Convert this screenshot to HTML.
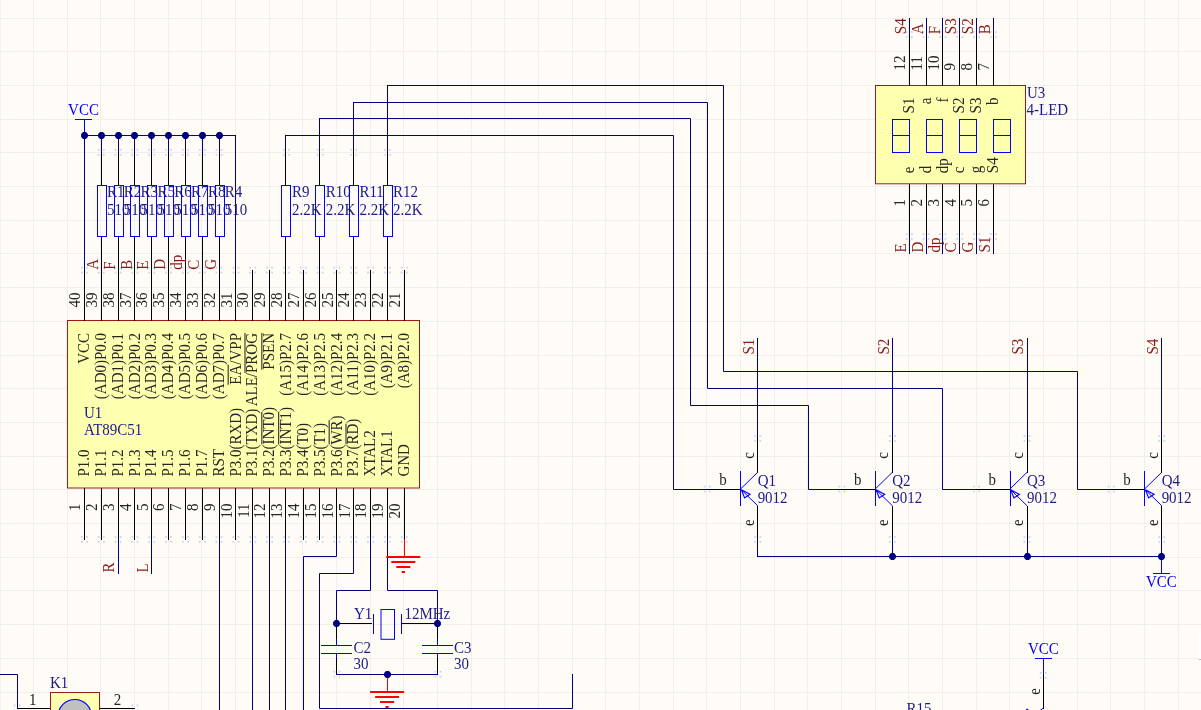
<!DOCTYPE html>
<html><head><meta charset="utf-8"><style>
html,body{margin:0;padding:0;background:#FFFCF7;width:1201px;height:710px;overflow:hidden}
svg{display:block;will-change:transform}
text{font-family:"Liberation Serif",serif;white-space:pre}
</style></head><body>
<svg width="1201" height="710" viewBox="0 0 1201 710">
<rect x="0" y="0" width="1201" height="710" fill="#FFFCF7"/>
<path d="M33.5 0V710 M67.5 0V710 M100.5 0V710 M134.5 0V710 M168.5 0V710 M201.5 0V710 M235.5 0V710 M269.5 0V710 M302.5 0V710 M336.5 0V710 M370.5 0V710 M403.5 0V710 M437.5 0V710 M471.5 0V710 M504.5 0V710 M538.5 0V710 M572.5 0V710 M605.5 0V710 M639.5 0V710 M673.5 0V710 M706.5 0V710 M740.5 0V710 M774.5 0V710 M807.5 0V710 M841.5 0V710 M875.5 0V710 M908.5 0V710 M942.5 0V710 M976.5 0V710 M1009.5 0V710 M1043.5 0V710 M1077.5 0V710 M1110.5 0V710 M1144.5 0V710 M1178.5 0V710 M0 18.5H1201 M0 51.5H1201 M0 85.5H1201 M0 119.5H1201 M0 152.5H1201 M0 186.5H1201 M0 220.5H1201 M0 253.5H1201 M0 287.5H1201 M0 321.5H1201 M0 355.5H1201 M0 388.5H1201 M0 422.5H1201 M0 456.5H1201 M0 489.5H1201 M0 523.5H1201 M0 557.5H1201 M0 590.5H1201 M0 624.5H1201 M0 658.5H1201 M0 692.5H1201" stroke="#F0EFEB" stroke-width="1" fill="none" shape-rendering="crispEdges"/>
<rect x="0" y="0" width="1" height="710" fill="#F4F3EF"/>
<rect x="97.73" y="148.93" width="1.8" height="1.8" fill="#C9D8F2"/>
<rect x="97.73" y="153.93" width="1.8" height="1.8" fill="#C9D8F2"/>
<rect x="102.93" y="148.93" width="1.8" height="1.8" fill="#C9D8F2"/>
<rect x="102.93" y="153.93" width="1.8" height="1.8" fill="#C9D8F2"/>
<rect x="114.57" y="148.93" width="1.8" height="1.8" fill="#C9D8F2"/>
<rect x="114.57" y="153.93" width="1.8" height="1.8" fill="#C9D8F2"/>
<rect x="119.77" y="148.93" width="1.8" height="1.8" fill="#C9D8F2"/>
<rect x="119.77" y="153.93" width="1.8" height="1.8" fill="#C9D8F2"/>
<rect x="131.4" y="148.93" width="1.8" height="1.8" fill="#C9D8F2"/>
<rect x="131.4" y="153.93" width="1.8" height="1.8" fill="#C9D8F2"/>
<rect x="136.6" y="148.93" width="1.8" height="1.8" fill="#C9D8F2"/>
<rect x="136.6" y="153.93" width="1.8" height="1.8" fill="#C9D8F2"/>
<rect x="148.23" y="148.93" width="1.8" height="1.8" fill="#C9D8F2"/>
<rect x="148.23" y="153.93" width="1.8" height="1.8" fill="#C9D8F2"/>
<rect x="153.43" y="148.93" width="1.8" height="1.8" fill="#C9D8F2"/>
<rect x="153.43" y="153.93" width="1.8" height="1.8" fill="#C9D8F2"/>
<rect x="165.07" y="148.93" width="1.8" height="1.8" fill="#C9D8F2"/>
<rect x="165.07" y="153.93" width="1.8" height="1.8" fill="#C9D8F2"/>
<rect x="170.27" y="148.93" width="1.8" height="1.8" fill="#C9D8F2"/>
<rect x="170.27" y="153.93" width="1.8" height="1.8" fill="#C9D8F2"/>
<rect x="181.9" y="148.93" width="1.8" height="1.8" fill="#C9D8F2"/>
<rect x="181.9" y="153.93" width="1.8" height="1.8" fill="#C9D8F2"/>
<rect x="187.1" y="148.93" width="1.8" height="1.8" fill="#C9D8F2"/>
<rect x="187.1" y="153.93" width="1.8" height="1.8" fill="#C9D8F2"/>
<rect x="198.73" y="148.93" width="1.8" height="1.8" fill="#C9D8F2"/>
<rect x="198.73" y="153.93" width="1.8" height="1.8" fill="#C9D8F2"/>
<rect x="203.93" y="148.93" width="1.8" height="1.8" fill="#C9D8F2"/>
<rect x="203.93" y="153.93" width="1.8" height="1.8" fill="#C9D8F2"/>
<rect x="215.57" y="148.93" width="1.8" height="1.8" fill="#C9D8F2"/>
<rect x="215.57" y="153.93" width="1.8" height="1.8" fill="#C9D8F2"/>
<rect x="220.77" y="148.93" width="1.8" height="1.8" fill="#C9D8F2"/>
<rect x="220.77" y="153.93" width="1.8" height="1.8" fill="#C9D8F2"/>
<rect x="282.9" y="148.93" width="1.8" height="1.8" fill="#C9D8F2"/>
<rect x="282.9" y="153.93" width="1.8" height="1.8" fill="#C9D8F2"/>
<rect x="288.1" y="148.93" width="1.8" height="1.8" fill="#C9D8F2"/>
<rect x="288.1" y="153.93" width="1.8" height="1.8" fill="#C9D8F2"/>
<rect x="316.57" y="148.93" width="1.8" height="1.8" fill="#C9D8F2"/>
<rect x="316.57" y="153.93" width="1.8" height="1.8" fill="#C9D8F2"/>
<rect x="321.77" y="148.93" width="1.8" height="1.8" fill="#C9D8F2"/>
<rect x="321.77" y="153.93" width="1.8" height="1.8" fill="#C9D8F2"/>
<rect x="350.23" y="148.93" width="1.8" height="1.8" fill="#C9D8F2"/>
<rect x="350.23" y="153.93" width="1.8" height="1.8" fill="#C9D8F2"/>
<rect x="355.43" y="148.93" width="1.8" height="1.8" fill="#C9D8F2"/>
<rect x="355.43" y="153.93" width="1.8" height="1.8" fill="#C9D8F2"/>
<rect x="383.9" y="148.93" width="1.8" height="1.8" fill="#C9D8F2"/>
<rect x="383.9" y="153.93" width="1.8" height="1.8" fill="#C9D8F2"/>
<rect x="389.1" y="148.93" width="1.8" height="1.8" fill="#C9D8F2"/>
<rect x="389.1" y="153.93" width="1.8" height="1.8" fill="#C9D8F2"/>
<rect x="80.9" y="266.77" width="1.8" height="1.8" fill="#C9D8F2"/>
<rect x="80.9" y="271.77" width="1.8" height="1.8" fill="#C9D8F2"/>
<rect x="86.1" y="266.77" width="1.8" height="1.8" fill="#C9D8F2"/>
<rect x="86.1" y="271.77" width="1.8" height="1.8" fill="#C9D8F2"/>
<rect x="80.9" y="536.1" width="1.8" height="1.8" fill="#C9D8F2"/>
<rect x="80.9" y="541.1" width="1.8" height="1.8" fill="#C9D8F2"/>
<rect x="86.1" y="536.1" width="1.8" height="1.8" fill="#C9D8F2"/>
<rect x="86.1" y="541.1" width="1.8" height="1.8" fill="#C9D8F2"/>
<rect x="97.73" y="266.77" width="1.8" height="1.8" fill="#C9D8F2"/>
<rect x="97.73" y="271.77" width="1.8" height="1.8" fill="#C9D8F2"/>
<rect x="102.93" y="266.77" width="1.8" height="1.8" fill="#C9D8F2"/>
<rect x="102.93" y="271.77" width="1.8" height="1.8" fill="#C9D8F2"/>
<rect x="97.73" y="536.1" width="1.8" height="1.8" fill="#C9D8F2"/>
<rect x="97.73" y="541.1" width="1.8" height="1.8" fill="#C9D8F2"/>
<rect x="102.93" y="536.1" width="1.8" height="1.8" fill="#C9D8F2"/>
<rect x="102.93" y="541.1" width="1.8" height="1.8" fill="#C9D8F2"/>
<rect x="114.57" y="266.77" width="1.8" height="1.8" fill="#C9D8F2"/>
<rect x="114.57" y="271.77" width="1.8" height="1.8" fill="#C9D8F2"/>
<rect x="119.77" y="266.77" width="1.8" height="1.8" fill="#C9D8F2"/>
<rect x="119.77" y="271.77" width="1.8" height="1.8" fill="#C9D8F2"/>
<rect x="114.57" y="536.1" width="1.8" height="1.8" fill="#C9D8F2"/>
<rect x="114.57" y="541.1" width="1.8" height="1.8" fill="#C9D8F2"/>
<rect x="119.77" y="536.1" width="1.8" height="1.8" fill="#C9D8F2"/>
<rect x="119.77" y="541.1" width="1.8" height="1.8" fill="#C9D8F2"/>
<rect x="131.4" y="266.77" width="1.8" height="1.8" fill="#C9D8F2"/>
<rect x="131.4" y="271.77" width="1.8" height="1.8" fill="#C9D8F2"/>
<rect x="136.6" y="266.77" width="1.8" height="1.8" fill="#C9D8F2"/>
<rect x="136.6" y="271.77" width="1.8" height="1.8" fill="#C9D8F2"/>
<rect x="131.4" y="536.1" width="1.8" height="1.8" fill="#C9D8F2"/>
<rect x="131.4" y="541.1" width="1.8" height="1.8" fill="#C9D8F2"/>
<rect x="136.6" y="536.1" width="1.8" height="1.8" fill="#C9D8F2"/>
<rect x="136.6" y="541.1" width="1.8" height="1.8" fill="#C9D8F2"/>
<rect x="148.23" y="266.77" width="1.8" height="1.8" fill="#C9D8F2"/>
<rect x="148.23" y="271.77" width="1.8" height="1.8" fill="#C9D8F2"/>
<rect x="153.43" y="266.77" width="1.8" height="1.8" fill="#C9D8F2"/>
<rect x="153.43" y="271.77" width="1.8" height="1.8" fill="#C9D8F2"/>
<rect x="148.23" y="536.1" width="1.8" height="1.8" fill="#C9D8F2"/>
<rect x="148.23" y="541.1" width="1.8" height="1.8" fill="#C9D8F2"/>
<rect x="153.43" y="536.1" width="1.8" height="1.8" fill="#C9D8F2"/>
<rect x="153.43" y="541.1" width="1.8" height="1.8" fill="#C9D8F2"/>
<rect x="165.07" y="266.77" width="1.8" height="1.8" fill="#C9D8F2"/>
<rect x="165.07" y="271.77" width="1.8" height="1.8" fill="#C9D8F2"/>
<rect x="170.27" y="266.77" width="1.8" height="1.8" fill="#C9D8F2"/>
<rect x="170.27" y="271.77" width="1.8" height="1.8" fill="#C9D8F2"/>
<rect x="165.07" y="536.1" width="1.8" height="1.8" fill="#C9D8F2"/>
<rect x="165.07" y="541.1" width="1.8" height="1.8" fill="#C9D8F2"/>
<rect x="170.27" y="536.1" width="1.8" height="1.8" fill="#C9D8F2"/>
<rect x="170.27" y="541.1" width="1.8" height="1.8" fill="#C9D8F2"/>
<rect x="181.9" y="266.77" width="1.8" height="1.8" fill="#C9D8F2"/>
<rect x="181.9" y="271.77" width="1.8" height="1.8" fill="#C9D8F2"/>
<rect x="187.1" y="266.77" width="1.8" height="1.8" fill="#C9D8F2"/>
<rect x="187.1" y="271.77" width="1.8" height="1.8" fill="#C9D8F2"/>
<rect x="181.9" y="536.1" width="1.8" height="1.8" fill="#C9D8F2"/>
<rect x="181.9" y="541.1" width="1.8" height="1.8" fill="#C9D8F2"/>
<rect x="187.1" y="536.1" width="1.8" height="1.8" fill="#C9D8F2"/>
<rect x="187.1" y="541.1" width="1.8" height="1.8" fill="#C9D8F2"/>
<rect x="198.73" y="266.77" width="1.8" height="1.8" fill="#C9D8F2"/>
<rect x="198.73" y="271.77" width="1.8" height="1.8" fill="#C9D8F2"/>
<rect x="203.93" y="266.77" width="1.8" height="1.8" fill="#C9D8F2"/>
<rect x="203.93" y="271.77" width="1.8" height="1.8" fill="#C9D8F2"/>
<rect x="198.73" y="536.1" width="1.8" height="1.8" fill="#C9D8F2"/>
<rect x="198.73" y="541.1" width="1.8" height="1.8" fill="#C9D8F2"/>
<rect x="203.93" y="536.1" width="1.8" height="1.8" fill="#C9D8F2"/>
<rect x="203.93" y="541.1" width="1.8" height="1.8" fill="#C9D8F2"/>
<rect x="215.57" y="266.77" width="1.8" height="1.8" fill="#C9D8F2"/>
<rect x="215.57" y="271.77" width="1.8" height="1.8" fill="#C9D8F2"/>
<rect x="220.77" y="266.77" width="1.8" height="1.8" fill="#C9D8F2"/>
<rect x="220.77" y="271.77" width="1.8" height="1.8" fill="#C9D8F2"/>
<rect x="215.57" y="536.1" width="1.8" height="1.8" fill="#C9D8F2"/>
<rect x="215.57" y="541.1" width="1.8" height="1.8" fill="#C9D8F2"/>
<rect x="220.77" y="536.1" width="1.8" height="1.8" fill="#C9D8F2"/>
<rect x="220.77" y="541.1" width="1.8" height="1.8" fill="#C9D8F2"/>
<rect x="232.4" y="266.77" width="1.8" height="1.8" fill="#C9D8F2"/>
<rect x="232.4" y="271.77" width="1.8" height="1.8" fill="#C9D8F2"/>
<rect x="237.6" y="266.77" width="1.8" height="1.8" fill="#C9D8F2"/>
<rect x="237.6" y="271.77" width="1.8" height="1.8" fill="#C9D8F2"/>
<rect x="232.4" y="536.1" width="1.8" height="1.8" fill="#C9D8F2"/>
<rect x="232.4" y="541.1" width="1.8" height="1.8" fill="#C9D8F2"/>
<rect x="237.6" y="536.1" width="1.8" height="1.8" fill="#C9D8F2"/>
<rect x="237.6" y="541.1" width="1.8" height="1.8" fill="#C9D8F2"/>
<rect x="249.23" y="266.77" width="1.8" height="1.8" fill="#C9D8F2"/>
<rect x="249.23" y="271.77" width="1.8" height="1.8" fill="#C9D8F2"/>
<rect x="254.43" y="266.77" width="1.8" height="1.8" fill="#C9D8F2"/>
<rect x="254.43" y="271.77" width="1.8" height="1.8" fill="#C9D8F2"/>
<rect x="249.23" y="536.1" width="1.8" height="1.8" fill="#C9D8F2"/>
<rect x="249.23" y="541.1" width="1.8" height="1.8" fill="#C9D8F2"/>
<rect x="254.43" y="536.1" width="1.8" height="1.8" fill="#C9D8F2"/>
<rect x="254.43" y="541.1" width="1.8" height="1.8" fill="#C9D8F2"/>
<rect x="266.07" y="266.77" width="1.8" height="1.8" fill="#C9D8F2"/>
<rect x="266.07" y="271.77" width="1.8" height="1.8" fill="#C9D8F2"/>
<rect x="271.27" y="266.77" width="1.8" height="1.8" fill="#C9D8F2"/>
<rect x="271.27" y="271.77" width="1.8" height="1.8" fill="#C9D8F2"/>
<rect x="266.07" y="536.1" width="1.8" height="1.8" fill="#C9D8F2"/>
<rect x="266.07" y="541.1" width="1.8" height="1.8" fill="#C9D8F2"/>
<rect x="271.27" y="536.1" width="1.8" height="1.8" fill="#C9D8F2"/>
<rect x="271.27" y="541.1" width="1.8" height="1.8" fill="#C9D8F2"/>
<rect x="282.9" y="266.77" width="1.8" height="1.8" fill="#C9D8F2"/>
<rect x="282.9" y="271.77" width="1.8" height="1.8" fill="#C9D8F2"/>
<rect x="288.1" y="266.77" width="1.8" height="1.8" fill="#C9D8F2"/>
<rect x="288.1" y="271.77" width="1.8" height="1.8" fill="#C9D8F2"/>
<rect x="282.9" y="536.1" width="1.8" height="1.8" fill="#C9D8F2"/>
<rect x="282.9" y="541.1" width="1.8" height="1.8" fill="#C9D8F2"/>
<rect x="288.1" y="536.1" width="1.8" height="1.8" fill="#C9D8F2"/>
<rect x="288.1" y="541.1" width="1.8" height="1.8" fill="#C9D8F2"/>
<rect x="299.73" y="266.77" width="1.8" height="1.8" fill="#C9D8F2"/>
<rect x="299.73" y="271.77" width="1.8" height="1.8" fill="#C9D8F2"/>
<rect x="304.93" y="266.77" width="1.8" height="1.8" fill="#C9D8F2"/>
<rect x="304.93" y="271.77" width="1.8" height="1.8" fill="#C9D8F2"/>
<rect x="299.73" y="536.1" width="1.8" height="1.8" fill="#C9D8F2"/>
<rect x="299.73" y="541.1" width="1.8" height="1.8" fill="#C9D8F2"/>
<rect x="304.93" y="536.1" width="1.8" height="1.8" fill="#C9D8F2"/>
<rect x="304.93" y="541.1" width="1.8" height="1.8" fill="#C9D8F2"/>
<rect x="316.57" y="266.77" width="1.8" height="1.8" fill="#C9D8F2"/>
<rect x="316.57" y="271.77" width="1.8" height="1.8" fill="#C9D8F2"/>
<rect x="321.77" y="266.77" width="1.8" height="1.8" fill="#C9D8F2"/>
<rect x="321.77" y="271.77" width="1.8" height="1.8" fill="#C9D8F2"/>
<rect x="316.57" y="536.1" width="1.8" height="1.8" fill="#C9D8F2"/>
<rect x="316.57" y="541.1" width="1.8" height="1.8" fill="#C9D8F2"/>
<rect x="321.77" y="536.1" width="1.8" height="1.8" fill="#C9D8F2"/>
<rect x="321.77" y="541.1" width="1.8" height="1.8" fill="#C9D8F2"/>
<rect x="333.4" y="266.77" width="1.8" height="1.8" fill="#C9D8F2"/>
<rect x="333.4" y="271.77" width="1.8" height="1.8" fill="#C9D8F2"/>
<rect x="338.6" y="266.77" width="1.8" height="1.8" fill="#C9D8F2"/>
<rect x="338.6" y="271.77" width="1.8" height="1.8" fill="#C9D8F2"/>
<rect x="333.4" y="536.1" width="1.8" height="1.8" fill="#C9D8F2"/>
<rect x="333.4" y="541.1" width="1.8" height="1.8" fill="#C9D8F2"/>
<rect x="338.6" y="536.1" width="1.8" height="1.8" fill="#C9D8F2"/>
<rect x="338.6" y="541.1" width="1.8" height="1.8" fill="#C9D8F2"/>
<rect x="350.23" y="266.77" width="1.8" height="1.8" fill="#C9D8F2"/>
<rect x="350.23" y="271.77" width="1.8" height="1.8" fill="#C9D8F2"/>
<rect x="355.43" y="266.77" width="1.8" height="1.8" fill="#C9D8F2"/>
<rect x="355.43" y="271.77" width="1.8" height="1.8" fill="#C9D8F2"/>
<rect x="350.23" y="536.1" width="1.8" height="1.8" fill="#C9D8F2"/>
<rect x="350.23" y="541.1" width="1.8" height="1.8" fill="#C9D8F2"/>
<rect x="355.43" y="536.1" width="1.8" height="1.8" fill="#C9D8F2"/>
<rect x="355.43" y="541.1" width="1.8" height="1.8" fill="#C9D8F2"/>
<rect x="367.07" y="266.77" width="1.8" height="1.8" fill="#C9D8F2"/>
<rect x="367.07" y="271.77" width="1.8" height="1.8" fill="#C9D8F2"/>
<rect x="372.27" y="266.77" width="1.8" height="1.8" fill="#C9D8F2"/>
<rect x="372.27" y="271.77" width="1.8" height="1.8" fill="#C9D8F2"/>
<rect x="367.07" y="536.1" width="1.8" height="1.8" fill="#C9D8F2"/>
<rect x="367.07" y="541.1" width="1.8" height="1.8" fill="#C9D8F2"/>
<rect x="372.27" y="536.1" width="1.8" height="1.8" fill="#C9D8F2"/>
<rect x="372.27" y="541.1" width="1.8" height="1.8" fill="#C9D8F2"/>
<rect x="383.9" y="266.77" width="1.8" height="1.8" fill="#C9D8F2"/>
<rect x="383.9" y="271.77" width="1.8" height="1.8" fill="#C9D8F2"/>
<rect x="389.1" y="266.77" width="1.8" height="1.8" fill="#C9D8F2"/>
<rect x="389.1" y="271.77" width="1.8" height="1.8" fill="#C9D8F2"/>
<rect x="383.9" y="536.1" width="1.8" height="1.8" fill="#C9D8F2"/>
<rect x="383.9" y="541.1" width="1.8" height="1.8" fill="#C9D8F2"/>
<rect x="389.1" y="536.1" width="1.8" height="1.8" fill="#C9D8F2"/>
<rect x="389.1" y="541.1" width="1.8" height="1.8" fill="#C9D8F2"/>
<rect x="400.73" y="266.77" width="1.8" height="1.8" fill="#C9D8F2"/>
<rect x="400.73" y="271.77" width="1.8" height="1.8" fill="#C9D8F2"/>
<rect x="405.93" y="266.77" width="1.8" height="1.8" fill="#C9D8F2"/>
<rect x="405.93" y="271.77" width="1.8" height="1.8" fill="#C9D8F2"/>
<rect x="400.73" y="536.1" width="1.8" height="1.8" fill="#C9D8F2"/>
<rect x="400.73" y="541.1" width="1.8" height="1.8" fill="#C9D8F2"/>
<rect x="405.93" y="536.1" width="1.8" height="1.8" fill="#C9D8F2"/>
<rect x="405.93" y="541.1" width="1.8" height="1.8" fill="#C9D8F2"/>
<rect x="905.73" y="31.1" width="1.8" height="1.8" fill="#C9D8F2"/>
<rect x="905.73" y="36.1" width="1.8" height="1.8" fill="#C9D8F2"/>
<rect x="910.93" y="31.1" width="1.8" height="1.8" fill="#C9D8F2"/>
<rect x="910.93" y="36.1" width="1.8" height="1.8" fill="#C9D8F2"/>
<rect x="905.73" y="233.1" width="1.8" height="1.8" fill="#C9D8F2"/>
<rect x="905.73" y="238.1" width="1.8" height="1.8" fill="#C9D8F2"/>
<rect x="910.93" y="233.1" width="1.8" height="1.8" fill="#C9D8F2"/>
<rect x="910.93" y="238.1" width="1.8" height="1.8" fill="#C9D8F2"/>
<rect x="922.57" y="31.1" width="1.8" height="1.8" fill="#C9D8F2"/>
<rect x="922.57" y="36.1" width="1.8" height="1.8" fill="#C9D8F2"/>
<rect x="927.77" y="31.1" width="1.8" height="1.8" fill="#C9D8F2"/>
<rect x="927.77" y="36.1" width="1.8" height="1.8" fill="#C9D8F2"/>
<rect x="922.57" y="233.1" width="1.8" height="1.8" fill="#C9D8F2"/>
<rect x="922.57" y="238.1" width="1.8" height="1.8" fill="#C9D8F2"/>
<rect x="927.77" y="233.1" width="1.8" height="1.8" fill="#C9D8F2"/>
<rect x="927.77" y="238.1" width="1.8" height="1.8" fill="#C9D8F2"/>
<rect x="939.4" y="31.1" width="1.8" height="1.8" fill="#C9D8F2"/>
<rect x="939.4" y="36.1" width="1.8" height="1.8" fill="#C9D8F2"/>
<rect x="944.6" y="31.1" width="1.8" height="1.8" fill="#C9D8F2"/>
<rect x="944.6" y="36.1" width="1.8" height="1.8" fill="#C9D8F2"/>
<rect x="939.4" y="233.1" width="1.8" height="1.8" fill="#C9D8F2"/>
<rect x="939.4" y="238.1" width="1.8" height="1.8" fill="#C9D8F2"/>
<rect x="944.6" y="233.1" width="1.8" height="1.8" fill="#C9D8F2"/>
<rect x="944.6" y="238.1" width="1.8" height="1.8" fill="#C9D8F2"/>
<rect x="956.23" y="31.1" width="1.8" height="1.8" fill="#C9D8F2"/>
<rect x="956.23" y="36.1" width="1.8" height="1.8" fill="#C9D8F2"/>
<rect x="961.43" y="31.1" width="1.8" height="1.8" fill="#C9D8F2"/>
<rect x="961.43" y="36.1" width="1.8" height="1.8" fill="#C9D8F2"/>
<rect x="956.23" y="233.1" width="1.8" height="1.8" fill="#C9D8F2"/>
<rect x="956.23" y="238.1" width="1.8" height="1.8" fill="#C9D8F2"/>
<rect x="961.43" y="233.1" width="1.8" height="1.8" fill="#C9D8F2"/>
<rect x="961.43" y="238.1" width="1.8" height="1.8" fill="#C9D8F2"/>
<rect x="973.07" y="31.1" width="1.8" height="1.8" fill="#C9D8F2"/>
<rect x="973.07" y="36.1" width="1.8" height="1.8" fill="#C9D8F2"/>
<rect x="978.27" y="31.1" width="1.8" height="1.8" fill="#C9D8F2"/>
<rect x="978.27" y="36.1" width="1.8" height="1.8" fill="#C9D8F2"/>
<rect x="973.07" y="233.1" width="1.8" height="1.8" fill="#C9D8F2"/>
<rect x="973.07" y="238.1" width="1.8" height="1.8" fill="#C9D8F2"/>
<rect x="978.27" y="233.1" width="1.8" height="1.8" fill="#C9D8F2"/>
<rect x="978.27" y="238.1" width="1.8" height="1.8" fill="#C9D8F2"/>
<rect x="989.9" y="31.1" width="1.8" height="1.8" fill="#C9D8F2"/>
<rect x="989.9" y="36.1" width="1.8" height="1.8" fill="#C9D8F2"/>
<rect x="995.1" y="31.1" width="1.8" height="1.8" fill="#C9D8F2"/>
<rect x="995.1" y="36.1" width="1.8" height="1.8" fill="#C9D8F2"/>
<rect x="989.9" y="233.1" width="1.8" height="1.8" fill="#C9D8F2"/>
<rect x="989.9" y="238.1" width="1.8" height="1.8" fill="#C9D8F2"/>
<rect x="995.1" y="233.1" width="1.8" height="1.8" fill="#C9D8F2"/>
<rect x="995.1" y="238.1" width="1.8" height="1.8" fill="#C9D8F2"/>
<rect x="703.73" y="485.6" width="1.8" height="1.8" fill="#C9D8F2"/>
<rect x="703.73" y="490.6" width="1.8" height="1.8" fill="#C9D8F2"/>
<rect x="708.93" y="485.6" width="1.8" height="1.8" fill="#C9D8F2"/>
<rect x="708.93" y="490.6" width="1.8" height="1.8" fill="#C9D8F2"/>
<rect x="754.23" y="435.1" width="1.8" height="1.8" fill="#C9D8F2"/>
<rect x="754.23" y="440.1" width="1.8" height="1.8" fill="#C9D8F2"/>
<rect x="759.43" y="435.1" width="1.8" height="1.8" fill="#C9D8F2"/>
<rect x="759.43" y="440.1" width="1.8" height="1.8" fill="#C9D8F2"/>
<rect x="754.23" y="536.1" width="1.8" height="1.8" fill="#C9D8F2"/>
<rect x="754.23" y="541.1" width="1.8" height="1.8" fill="#C9D8F2"/>
<rect x="759.43" y="536.1" width="1.8" height="1.8" fill="#C9D8F2"/>
<rect x="759.43" y="541.1" width="1.8" height="1.8" fill="#C9D8F2"/>
<rect x="838.4" y="485.6" width="1.8" height="1.8" fill="#C9D8F2"/>
<rect x="838.4" y="490.6" width="1.8" height="1.8" fill="#C9D8F2"/>
<rect x="843.6" y="485.6" width="1.8" height="1.8" fill="#C9D8F2"/>
<rect x="843.6" y="490.6" width="1.8" height="1.8" fill="#C9D8F2"/>
<rect x="888.9" y="435.1" width="1.8" height="1.8" fill="#C9D8F2"/>
<rect x="888.9" y="440.1" width="1.8" height="1.8" fill="#C9D8F2"/>
<rect x="894.1" y="435.1" width="1.8" height="1.8" fill="#C9D8F2"/>
<rect x="894.1" y="440.1" width="1.8" height="1.8" fill="#C9D8F2"/>
<rect x="888.9" y="536.1" width="1.8" height="1.8" fill="#C9D8F2"/>
<rect x="888.9" y="541.1" width="1.8" height="1.8" fill="#C9D8F2"/>
<rect x="894.1" y="536.1" width="1.8" height="1.8" fill="#C9D8F2"/>
<rect x="894.1" y="541.1" width="1.8" height="1.8" fill="#C9D8F2"/>
<rect x="973.07" y="485.6" width="1.8" height="1.8" fill="#C9D8F2"/>
<rect x="973.07" y="490.6" width="1.8" height="1.8" fill="#C9D8F2"/>
<rect x="978.27" y="485.6" width="1.8" height="1.8" fill="#C9D8F2"/>
<rect x="978.27" y="490.6" width="1.8" height="1.8" fill="#C9D8F2"/>
<rect x="1023.57" y="435.1" width="1.8" height="1.8" fill="#C9D8F2"/>
<rect x="1023.57" y="440.1" width="1.8" height="1.8" fill="#C9D8F2"/>
<rect x="1028.77" y="435.1" width="1.8" height="1.8" fill="#C9D8F2"/>
<rect x="1028.77" y="440.1" width="1.8" height="1.8" fill="#C9D8F2"/>
<rect x="1023.57" y="536.1" width="1.8" height="1.8" fill="#C9D8F2"/>
<rect x="1023.57" y="541.1" width="1.8" height="1.8" fill="#C9D8F2"/>
<rect x="1028.77" y="536.1" width="1.8" height="1.8" fill="#C9D8F2"/>
<rect x="1028.77" y="541.1" width="1.8" height="1.8" fill="#C9D8F2"/>
<rect x="1107.73" y="485.6" width="1.8" height="1.8" fill="#C9D8F2"/>
<rect x="1107.73" y="490.6" width="1.8" height="1.8" fill="#C9D8F2"/>
<rect x="1112.93" y="485.6" width="1.8" height="1.8" fill="#C9D8F2"/>
<rect x="1112.93" y="490.6" width="1.8" height="1.8" fill="#C9D8F2"/>
<rect x="1158.23" y="435.1" width="1.8" height="1.8" fill="#C9D8F2"/>
<rect x="1158.23" y="440.1" width="1.8" height="1.8" fill="#C9D8F2"/>
<rect x="1163.43" y="435.1" width="1.8" height="1.8" fill="#C9D8F2"/>
<rect x="1163.43" y="440.1" width="1.8" height="1.8" fill="#C9D8F2"/>
<rect x="1158.23" y="536.1" width="1.8" height="1.8" fill="#C9D8F2"/>
<rect x="1158.23" y="541.1" width="1.8" height="1.8" fill="#C9D8F2"/>
<rect x="1163.43" y="536.1" width="1.8" height="1.8" fill="#C9D8F2"/>
<rect x="1163.43" y="541.1" width="1.8" height="1.8" fill="#C9D8F2"/>
<rect x="333.4" y="670.77" width="1.8" height="1.8" fill="#C9D8F2"/>
<rect x="333.4" y="675.77" width="1.8" height="1.8" fill="#C9D8F2"/>
<rect x="338.6" y="670.77" width="1.8" height="1.8" fill="#C9D8F2"/>
<rect x="338.6" y="675.77" width="1.8" height="1.8" fill="#C9D8F2"/>
<rect x="434.4" y="670.77" width="1.8" height="1.8" fill="#C9D8F2"/>
<rect x="434.4" y="675.77" width="1.8" height="1.8" fill="#C9D8F2"/>
<rect x="439.6" y="670.77" width="1.8" height="1.8" fill="#C9D8F2"/>
<rect x="439.6" y="675.77" width="1.8" height="1.8" fill="#C9D8F2"/>
<rect x="13.57" y="704.43" width="1.8" height="1.8" fill="#C9D8F2"/>
<rect x="13.57" y="709.43" width="1.8" height="1.8" fill="#C9D8F2"/>
<rect x="18.77" y="704.43" width="1.8" height="1.8" fill="#C9D8F2"/>
<rect x="18.77" y="709.43" width="1.8" height="1.8" fill="#C9D8F2"/>
<rect x="131.4" y="704.43" width="1.8" height="1.8" fill="#C9D8F2"/>
<rect x="131.4" y="709.43" width="1.8" height="1.8" fill="#C9D8F2"/>
<rect x="136.6" y="704.43" width="1.8" height="1.8" fill="#C9D8F2"/>
<rect x="136.6" y="709.43" width="1.8" height="1.8" fill="#C9D8F2"/>
<rect x="1039.8" y="671.9" width="1.8" height="1.8" fill="#C9D8F2"/>
<rect x="1039.8" y="676.9" width="1.8" height="1.8" fill="#C9D8F2"/>
<rect x="1045" y="671.9" width="1.8" height="1.8" fill="#C9D8F2"/>
<rect x="1045" y="676.9" width="1.8" height="1.8" fill="#C9D8F2"/>
<rect x="67.5" y="320.5" width="352" height="167.5" stroke="#9B1B1B" fill="#FFFFB0" stroke-width="1"/>
<line x1="84.5" y1="270.5" x2="84.5" y2="320.5" stroke="#000000" stroke-width="1" stroke-linecap="square"/>
<line x1="84.5" y1="488.5" x2="84.5" y2="539.5" stroke="#000000" stroke-width="1" stroke-linecap="square"/>
<line x1="101.5" y1="270.5" x2="101.5" y2="320.5" stroke="#000000" stroke-width="1" stroke-linecap="square"/>
<line x1="101.5" y1="488.5" x2="101.5" y2="539.5" stroke="#000000" stroke-width="1" stroke-linecap="square"/>
<line x1="118.5" y1="270.5" x2="118.5" y2="320.5" stroke="#000000" stroke-width="1" stroke-linecap="square"/>
<line x1="118.5" y1="488.5" x2="118.5" y2="539.5" stroke="#000000" stroke-width="1" stroke-linecap="square"/>
<line x1="134.5" y1="270.5" x2="134.5" y2="320.5" stroke="#000000" stroke-width="1" stroke-linecap="square"/>
<line x1="134.5" y1="488.5" x2="134.5" y2="539.5" stroke="#000000" stroke-width="1" stroke-linecap="square"/>
<line x1="151.5" y1="270.5" x2="151.5" y2="320.5" stroke="#000000" stroke-width="1" stroke-linecap="square"/>
<line x1="151.5" y1="488.5" x2="151.5" y2="539.5" stroke="#000000" stroke-width="1" stroke-linecap="square"/>
<line x1="168.5" y1="270.5" x2="168.5" y2="320.5" stroke="#000000" stroke-width="1" stroke-linecap="square"/>
<line x1="168.5" y1="488.5" x2="168.5" y2="539.5" stroke="#000000" stroke-width="1" stroke-linecap="square"/>
<line x1="185.5" y1="270.5" x2="185.5" y2="320.5" stroke="#000000" stroke-width="1" stroke-linecap="square"/>
<line x1="185.5" y1="488.5" x2="185.5" y2="539.5" stroke="#000000" stroke-width="1" stroke-linecap="square"/>
<line x1="202.5" y1="270.5" x2="202.5" y2="320.5" stroke="#000000" stroke-width="1" stroke-linecap="square"/>
<line x1="202.5" y1="488.5" x2="202.5" y2="539.5" stroke="#000000" stroke-width="1" stroke-linecap="square"/>
<line x1="219.5" y1="270.5" x2="219.5" y2="320.5" stroke="#000000" stroke-width="1" stroke-linecap="square"/>
<line x1="219.5" y1="488.5" x2="219.5" y2="539.5" stroke="#000000" stroke-width="1" stroke-linecap="square"/>
<line x1="235.5" y1="270.5" x2="235.5" y2="320.5" stroke="#000000" stroke-width="1" stroke-linecap="square"/>
<line x1="235.5" y1="488.5" x2="235.5" y2="539.5" stroke="#000000" stroke-width="1" stroke-linecap="square"/>
<line x1="252.5" y1="270.5" x2="252.5" y2="320.5" stroke="#000000" stroke-width="1" stroke-linecap="square"/>
<line x1="252.5" y1="488.5" x2="252.5" y2="539.5" stroke="#000000" stroke-width="1" stroke-linecap="square"/>
<line x1="269.5" y1="270.5" x2="269.5" y2="320.5" stroke="#000000" stroke-width="1" stroke-linecap="square"/>
<line x1="269.5" y1="488.5" x2="269.5" y2="539.5" stroke="#000000" stroke-width="1" stroke-linecap="square"/>
<line x1="285.5" y1="270.5" x2="285.5" y2="320.5" stroke="#000000" stroke-width="1" stroke-linecap="square"/>
<line x1="285.5" y1="488.5" x2="285.5" y2="539.5" stroke="#000000" stroke-width="1" stroke-linecap="square"/>
<line x1="303.5" y1="270.5" x2="303.5" y2="320.5" stroke="#000000" stroke-width="1" stroke-linecap="square"/>
<line x1="303.5" y1="488.5" x2="303.5" y2="539.5" stroke="#000000" stroke-width="1" stroke-linecap="square"/>
<line x1="319.5" y1="270.5" x2="319.5" y2="320.5" stroke="#000000" stroke-width="1" stroke-linecap="square"/>
<line x1="319.5" y1="488.5" x2="319.5" y2="539.5" stroke="#000000" stroke-width="1" stroke-linecap="square"/>
<line x1="336.5" y1="270.5" x2="336.5" y2="320.5" stroke="#000000" stroke-width="1" stroke-linecap="square"/>
<line x1="336.5" y1="488.5" x2="336.5" y2="539.5" stroke="#000000" stroke-width="1" stroke-linecap="square"/>
<line x1="353.5" y1="270.5" x2="353.5" y2="320.5" stroke="#000000" stroke-width="1" stroke-linecap="square"/>
<line x1="353.5" y1="488.5" x2="353.5" y2="539.5" stroke="#000000" stroke-width="1" stroke-linecap="square"/>
<line x1="370.5" y1="270.5" x2="370.5" y2="320.5" stroke="#000000" stroke-width="1" stroke-linecap="square"/>
<line x1="370.5" y1="488.5" x2="370.5" y2="539.5" stroke="#000000" stroke-width="1" stroke-linecap="square"/>
<line x1="387.5" y1="270.5" x2="387.5" y2="320.5" stroke="#000000" stroke-width="1" stroke-linecap="square"/>
<line x1="387.5" y1="488.5" x2="387.5" y2="539.5" stroke="#000000" stroke-width="1" stroke-linecap="square"/>
<line x1="404.5" y1="270.5" x2="404.5" y2="320.5" stroke="#000000" stroke-width="1" stroke-linecap="square"/>
<line x1="404.5" y1="488.5" x2="404.5" y2="539.5" stroke="#000000" stroke-width="1" stroke-linecap="square"/>
<g transform="translate(80.1,307.4) rotate(-90) scale(1,1.12)"><text fill="#262626" text-anchor="start" font-size="15">40</text></g>
<g transform="translate(80.3,503.4) rotate(-90) scale(1,1.12)"><text fill="#262626" text-anchor="end" font-size="15">1</text></g>
<g transform="translate(89.1,333) rotate(-90) scale(1,1.12)"><text fill="#262626" text-anchor="end" font-size="15">VCC</text></g>
<g transform="translate(89.1,476.6) rotate(-90) scale(1,1.12)"><text fill="#262626" text-anchor="start" font-size="15">P1.0</text></g>
<g transform="translate(96.93,307.4) rotate(-90) scale(1,1.12)"><text fill="#262626" text-anchor="start" font-size="15">39</text></g>
<g transform="translate(97.13,503.4) rotate(-90) scale(1,1.12)"><text fill="#262626" text-anchor="end" font-size="15">2</text></g>
<g transform="translate(105.93,333) rotate(-90) scale(1,1.12)"><text fill="#262626" text-anchor="end" font-size="15">(AD0)P0.0</text></g>
<g transform="translate(105.93,476.6) rotate(-90) scale(1,1.12)"><text fill="#262626" text-anchor="start" font-size="15">P1.1</text></g>
<g transform="translate(113.77,307.4) rotate(-90) scale(1,1.12)"><text fill="#262626" text-anchor="start" font-size="15">38</text></g>
<g transform="translate(113.97,503.4) rotate(-90) scale(1,1.12)"><text fill="#262626" text-anchor="end" font-size="15">3</text></g>
<g transform="translate(122.77,333) rotate(-90) scale(1,1.12)"><text fill="#262626" text-anchor="end" font-size="15">(AD1)P0.1</text></g>
<g transform="translate(122.77,476.6) rotate(-90) scale(1,1.12)"><text fill="#262626" text-anchor="start" font-size="15">P1.2</text></g>
<g transform="translate(130.6,307.4) rotate(-90) scale(1,1.12)"><text fill="#262626" text-anchor="start" font-size="15">37</text></g>
<g transform="translate(130.8,503.4) rotate(-90) scale(1,1.12)"><text fill="#262626" text-anchor="end" font-size="15">4</text></g>
<g transform="translate(139.6,333) rotate(-90) scale(1,1.12)"><text fill="#262626" text-anchor="end" font-size="15">(AD2)P0.2</text></g>
<g transform="translate(139.6,476.6) rotate(-90) scale(1,1.12)"><text fill="#262626" text-anchor="start" font-size="15">P1.3</text></g>
<g transform="translate(147.43,307.4) rotate(-90) scale(1,1.12)"><text fill="#262626" text-anchor="start" font-size="15">36</text></g>
<g transform="translate(147.63,503.4) rotate(-90) scale(1,1.12)"><text fill="#262626" text-anchor="end" font-size="15">5</text></g>
<g transform="translate(156.43,333) rotate(-90) scale(1,1.12)"><text fill="#262626" text-anchor="end" font-size="15">(AD3)P0.3</text></g>
<g transform="translate(156.43,476.6) rotate(-90) scale(1,1.12)"><text fill="#262626" text-anchor="start" font-size="15">P1.4</text></g>
<g transform="translate(164.27,307.4) rotate(-90) scale(1,1.12)"><text fill="#262626" text-anchor="start" font-size="15">35</text></g>
<g transform="translate(164.47,503.4) rotate(-90) scale(1,1.12)"><text fill="#262626" text-anchor="end" font-size="15">6</text></g>
<g transform="translate(173.27,333) rotate(-90) scale(1,1.12)"><text fill="#262626" text-anchor="end" font-size="15">(AD4)P0.4</text></g>
<g transform="translate(173.27,476.6) rotate(-90) scale(1,1.12)"><text fill="#262626" text-anchor="start" font-size="15">P1.5</text></g>
<g transform="translate(181.1,307.4) rotate(-90) scale(1,1.12)"><text fill="#262626" text-anchor="start" font-size="15">34</text></g>
<g transform="translate(181.3,503.4) rotate(-90) scale(1,1.12)"><text fill="#262626" text-anchor="end" font-size="15">7</text></g>
<g transform="translate(190.1,333) rotate(-90) scale(1,1.12)"><text fill="#262626" text-anchor="end" font-size="15">(AD5)P0.5</text></g>
<g transform="translate(190.1,476.6) rotate(-90) scale(1,1.12)"><text fill="#262626" text-anchor="start" font-size="15">P1.6</text></g>
<g transform="translate(197.93,307.4) rotate(-90) scale(1,1.12)"><text fill="#262626" text-anchor="start" font-size="15">33</text></g>
<g transform="translate(198.13,503.4) rotate(-90) scale(1,1.12)"><text fill="#262626" text-anchor="end" font-size="15">8</text></g>
<g transform="translate(206.93,333) rotate(-90) scale(1,1.12)"><text fill="#262626" text-anchor="end" font-size="15">(AD6)P0.6</text></g>
<g transform="translate(206.93,476.6) rotate(-90) scale(1,1.12)"><text fill="#262626" text-anchor="start" font-size="15">P1.7</text></g>
<g transform="translate(214.77,307.4) rotate(-90) scale(1,1.12)"><text fill="#262626" text-anchor="start" font-size="15">32</text></g>
<g transform="translate(214.97,503.4) rotate(-90) scale(1,1.12)"><text fill="#262626" text-anchor="end" font-size="15">9</text></g>
<g transform="translate(223.77,333) rotate(-90) scale(1,1.12)"><text fill="#262626" text-anchor="end" font-size="15">(AD7)P0.7</text></g>
<g transform="translate(223.77,476.6) rotate(-90) scale(1,1.12)"><text fill="#262626" text-anchor="start" font-size="15">RST</text></g>
<g transform="translate(231.6,307.4) rotate(-90) scale(1,1.12)"><text fill="#262626" text-anchor="start" font-size="15">31</text></g>
<g transform="translate(231.8,503.4) rotate(-90) scale(1,1.12)"><text fill="#262626" text-anchor="end" font-size="15">10</text></g>
<g transform="translate(240.6,333) rotate(-90) scale(1,1.12)"><text fill="#262626" text-anchor="end" font-size="15">EA/VPP</text><line x1="-51.69" y1="-11.1" x2="-31.69" y2="-11.1" stroke="#262626" stroke-width="0.95"/></g>
<g transform="translate(240.6,476.6) rotate(-90) scale(1,1.12)"><text fill="#262626" text-anchor="start" font-size="15">P3.0(RXD)</text></g>
<g transform="translate(248.43,307.4) rotate(-90) scale(1,1.12)"><text fill="#262626" text-anchor="start" font-size="15">30</text></g>
<g transform="translate(248.63,503.4) rotate(-90) scale(1,1.12)"><text fill="#262626" text-anchor="end" font-size="15">11</text></g>
<g transform="translate(257.43,333) rotate(-90) scale(1,1.12)"><text fill="#262626" text-anchor="end" font-size="15">ALE/PROG</text><line x1="-40.03" y1="-11.1" x2="0" y2="-11.1" stroke="#262626" stroke-width="0.95"/></g>
<g transform="translate(257.43,476.6) rotate(-90) scale(1,1.12)"><text fill="#262626" text-anchor="start" font-size="15">P3.1(TXD)</text></g>
<g transform="translate(265.27,307.4) rotate(-90) scale(1,1.12)"><text fill="#262626" text-anchor="start" font-size="15">29</text></g>
<g transform="translate(265.47,503.4) rotate(-90) scale(1,1.12)"><text fill="#262626" text-anchor="end" font-size="15">12</text></g>
<g transform="translate(274.27,333) rotate(-90) scale(1,1.12)"><text fill="#262626" text-anchor="end" font-size="15">PSEN</text><line x1="-36.69" y1="-11.1" x2="0" y2="-11.1" stroke="#262626" stroke-width="0.95"/></g>
<g transform="translate(274.27,476.6) rotate(-90) scale(1,1.12)"><text fill="#262626" text-anchor="start" font-size="15">P3.2(INT0)</text><line x1="32.08" y1="-11.1" x2="64.58" y2="-11.1" stroke="#262626" stroke-width="0.95"/></g>
<g transform="translate(282.1,307.4) rotate(-90) scale(1,1.12)"><text fill="#262626" text-anchor="start" font-size="15">28</text></g>
<g transform="translate(282.3,503.4) rotate(-90) scale(1,1.12)"><text fill="#262626" text-anchor="end" font-size="15">13</text></g>
<g transform="translate(291.1,333) rotate(-90) scale(1,1.12)"><text fill="#262626" text-anchor="end" font-size="15">(A15)P2.7</text></g>
<g transform="translate(291.1,476.6) rotate(-90) scale(1,1.12)"><text fill="#262626" text-anchor="start" font-size="15">P3.3(INT1)</text><line x1="32.08" y1="-11.1" x2="64.58" y2="-11.1" stroke="#262626" stroke-width="0.95"/></g>
<g transform="translate(298.93,307.4) rotate(-90) scale(1,1.12)"><text fill="#262626" text-anchor="start" font-size="15">27</text></g>
<g transform="translate(299.13,503.4) rotate(-90) scale(1,1.12)"><text fill="#262626" text-anchor="end" font-size="15">14</text></g>
<g transform="translate(307.93,333) rotate(-90) scale(1,1.12)"><text fill="#262626" text-anchor="end" font-size="15">(A14)P2.6</text></g>
<g transform="translate(307.93,476.6) rotate(-90) scale(1,1.12)"><text fill="#262626" text-anchor="start" font-size="15">P3.4(T0)</text></g>
<g transform="translate(315.77,307.4) rotate(-90) scale(1,1.12)"><text fill="#262626" text-anchor="start" font-size="15">26</text></g>
<g transform="translate(315.97,503.4) rotate(-90) scale(1,1.12)"><text fill="#262626" text-anchor="end" font-size="15">15</text></g>
<g transform="translate(324.77,333) rotate(-90) scale(1,1.12)"><text fill="#262626" text-anchor="end" font-size="15">(A13)P2.5</text></g>
<g transform="translate(324.77,476.6) rotate(-90) scale(1,1.12)"><text fill="#262626" text-anchor="start" font-size="15">P3.5(T1)</text></g>
<g transform="translate(332.6,307.4) rotate(-90) scale(1,1.12)"><text fill="#262626" text-anchor="start" font-size="15">25</text></g>
<g transform="translate(332.8,503.4) rotate(-90) scale(1,1.12)"><text fill="#262626" text-anchor="end" font-size="15">16</text></g>
<g transform="translate(341.6,333) rotate(-90) scale(1,1.12)"><text fill="#262626" text-anchor="end" font-size="15">(A12)P2.4</text></g>
<g transform="translate(341.6,476.6) rotate(-90) scale(1,1.12)"><text fill="#262626" text-anchor="start" font-size="15">P3.6(WR)</text><line x1="32.08" y1="-11.1" x2="56.25" y2="-11.1" stroke="#262626" stroke-width="0.95"/></g>
<g transform="translate(349.43,307.4) rotate(-90) scale(1,1.12)"><text fill="#262626" text-anchor="start" font-size="15">24</text></g>
<g transform="translate(349.63,503.4) rotate(-90) scale(1,1.12)"><text fill="#262626" text-anchor="end" font-size="15">17</text></g>
<g transform="translate(358.43,333) rotate(-90) scale(1,1.12)"><text fill="#262626" text-anchor="end" font-size="15">(A11)P2.3</text></g>
<g transform="translate(358.43,476.6) rotate(-90) scale(1,1.12)"><text fill="#262626" text-anchor="start" font-size="15">P3.7(RD)</text><line x1="32.08" y1="-11.1" x2="52.94" y2="-11.1" stroke="#262626" stroke-width="0.95"/></g>
<g transform="translate(366.27,307.4) rotate(-90) scale(1,1.12)"><text fill="#262626" text-anchor="start" font-size="15">23</text></g>
<g transform="translate(366.47,503.4) rotate(-90) scale(1,1.12)"><text fill="#262626" text-anchor="end" font-size="15">18</text></g>
<g transform="translate(375.27,333) rotate(-90) scale(1,1.12)"><text fill="#262626" text-anchor="end" font-size="15">(A10)P2.2</text></g>
<g transform="translate(375.27,476.6) rotate(-90) scale(1,1.12)"><text fill="#262626" text-anchor="start" font-size="15">XTAL2</text></g>
<g transform="translate(383.1,307.4) rotate(-90) scale(1,1.12)"><text fill="#262626" text-anchor="start" font-size="15">22</text></g>
<g transform="translate(383.3,503.4) rotate(-90) scale(1,1.12)"><text fill="#262626" text-anchor="end" font-size="15">19</text></g>
<g transform="translate(392.1,333) rotate(-90) scale(1,1.12)"><text fill="#262626" text-anchor="end" font-size="15">(A9)P2.1</text></g>
<g transform="translate(392.1,476.6) rotate(-90) scale(1,1.12)"><text fill="#262626" text-anchor="start" font-size="15">XTAL1</text></g>
<g transform="translate(399.93,307.4) rotate(-90) scale(1,1.12)"><text fill="#262626" text-anchor="start" font-size="15">21</text></g>
<g transform="translate(400.13,503.4) rotate(-90) scale(1,1.12)"><text fill="#262626" text-anchor="end" font-size="15">20</text></g>
<g transform="translate(408.93,333) rotate(-90) scale(1,1.12)"><text fill="#262626" text-anchor="end" font-size="15">(A8)P2.0</text></g>
<g transform="translate(408.93,476.6) rotate(-90) scale(1,1.12)"><text fill="#262626" text-anchor="start" font-size="15">GND</text></g>
<text transform="translate(84,418.2) scale(1,1.12)" fill="#1C1C88" text-anchor="start" font-size="15">U1</text>
<text transform="translate(84,435.2) scale(1,1.12)" fill="#1C1C88" text-anchor="start" font-size="15">AT89C51</text>
<text transform="translate(83.5,114.6) scale(1,1.12)" fill="#0000FF" text-anchor="middle" font-size="15">VCC</text>
<line x1="75.5" y1="119.5" x2="91.5" y2="119.5" stroke="#0000FF" stroke-width="1" stroke-linecap="square"/>
<line x1="84.5" y1="119.5" x2="84.5" y2="135.5" stroke="#0000FF" stroke-width="1" stroke-linecap="square"/>
<line x1="84.5" y1="135.5" x2="235.5" y2="135.5" stroke="#000080" stroke-width="1" stroke-linecap="square"/>
<line x1="84.5" y1="135.5" x2="84.5" y2="270.5" stroke="#000080" stroke-width="1" stroke-linecap="square"/>
<line x1="235.5" y1="135.5" x2="235.5" y2="270.5" stroke="#000080" stroke-width="1" stroke-linecap="square"/>
<line x1="101.5" y1="135.5" x2="101.5" y2="152.5" stroke="#000080" stroke-width="1" stroke-linecap="square"/>
<line x1="101.5" y1="152.5" x2="101.5" y2="185.5" stroke="#000000" stroke-width="1" stroke-linecap="square"/>
<line x1="101.5" y1="236.5" x2="101.5" y2="270.5" stroke="#000000" stroke-width="1" stroke-linecap="square"/>
<rect x="97.5" y="185.5" width="9" height="51" stroke="#0000FF" fill="none" stroke-width="1"/>
<text transform="translate(106.93,197.4) scale(1,1.12)" fill="#1C1C88" text-anchor="start" font-size="15">R1</text>
<text transform="translate(106.93,214.5) scale(1,1.12)" fill="#1C1C88" text-anchor="start" font-size="15">510</text>
<line x1="118.5" y1="135.5" x2="118.5" y2="152.5" stroke="#000080" stroke-width="1" stroke-linecap="square"/>
<line x1="118.5" y1="152.5" x2="118.5" y2="185.5" stroke="#000000" stroke-width="1" stroke-linecap="square"/>
<line x1="118.5" y1="236.5" x2="118.5" y2="270.5" stroke="#000000" stroke-width="1" stroke-linecap="square"/>
<rect x="114.5" y="185.5" width="9" height="51" stroke="#0000FF" fill="none" stroke-width="1"/>
<text transform="translate(123.77,197.4) scale(1,1.12)" fill="#1C1C88" text-anchor="start" font-size="15">R2</text>
<text transform="translate(123.77,214.5) scale(1,1.12)" fill="#1C1C88" text-anchor="start" font-size="15">510</text>
<line x1="134.5" y1="135.5" x2="134.5" y2="152.5" stroke="#000080" stroke-width="1" stroke-linecap="square"/>
<line x1="134.5" y1="152.5" x2="134.5" y2="185.5" stroke="#000000" stroke-width="1" stroke-linecap="square"/>
<line x1="134.5" y1="236.5" x2="134.5" y2="270.5" stroke="#000000" stroke-width="1" stroke-linecap="square"/>
<rect x="130.5" y="185.5" width="9" height="51" stroke="#0000FF" fill="none" stroke-width="1"/>
<text transform="translate(140.6,197.4) scale(1,1.12)" fill="#1C1C88" text-anchor="start" font-size="15">R3</text>
<text transform="translate(140.6,214.5) scale(1,1.12)" fill="#1C1C88" text-anchor="start" font-size="15">510</text>
<line x1="151.5" y1="135.5" x2="151.5" y2="152.5" stroke="#000080" stroke-width="1" stroke-linecap="square"/>
<line x1="151.5" y1="152.5" x2="151.5" y2="185.5" stroke="#000000" stroke-width="1" stroke-linecap="square"/>
<line x1="151.5" y1="236.5" x2="151.5" y2="270.5" stroke="#000000" stroke-width="1" stroke-linecap="square"/>
<rect x="147.5" y="185.5" width="9" height="51" stroke="#0000FF" fill="none" stroke-width="1"/>
<text transform="translate(157.43,197.4) scale(1,1.12)" fill="#1C1C88" text-anchor="start" font-size="15">R5</text>
<text transform="translate(157.43,214.5) scale(1,1.12)" fill="#1C1C88" text-anchor="start" font-size="15">510</text>
<line x1="168.5" y1="135.5" x2="168.5" y2="152.5" stroke="#000080" stroke-width="1" stroke-linecap="square"/>
<line x1="168.5" y1="152.5" x2="168.5" y2="185.5" stroke="#000000" stroke-width="1" stroke-linecap="square"/>
<line x1="168.5" y1="236.5" x2="168.5" y2="270.5" stroke="#000000" stroke-width="1" stroke-linecap="square"/>
<rect x="164.5" y="185.5" width="9" height="51" stroke="#0000FF" fill="none" stroke-width="1"/>
<text transform="translate(174.27,197.4) scale(1,1.12)" fill="#1C1C88" text-anchor="start" font-size="15">R6</text>
<text transform="translate(174.27,214.5) scale(1,1.12)" fill="#1C1C88" text-anchor="start" font-size="15">510</text>
<line x1="185.5" y1="135.5" x2="185.5" y2="152.5" stroke="#000080" stroke-width="1" stroke-linecap="square"/>
<line x1="185.5" y1="152.5" x2="185.5" y2="185.5" stroke="#000000" stroke-width="1" stroke-linecap="square"/>
<line x1="185.5" y1="236.5" x2="185.5" y2="270.5" stroke="#000000" stroke-width="1" stroke-linecap="square"/>
<rect x="181.5" y="185.5" width="9" height="51" stroke="#0000FF" fill="none" stroke-width="1"/>
<text transform="translate(191.1,197.4) scale(1,1.12)" fill="#1C1C88" text-anchor="start" font-size="15">R7</text>
<text transform="translate(191.1,214.5) scale(1,1.12)" fill="#1C1C88" text-anchor="start" font-size="15">510</text>
<line x1="202.5" y1="135.5" x2="202.5" y2="152.5" stroke="#000080" stroke-width="1" stroke-linecap="square"/>
<line x1="202.5" y1="152.5" x2="202.5" y2="185.5" stroke="#000000" stroke-width="1" stroke-linecap="square"/>
<line x1="202.5" y1="236.5" x2="202.5" y2="270.5" stroke="#000000" stroke-width="1" stroke-linecap="square"/>
<rect x="198.5" y="185.5" width="9" height="51" stroke="#0000FF" fill="none" stroke-width="1"/>
<text transform="translate(207.93,197.4) scale(1,1.12)" fill="#1C1C88" text-anchor="start" font-size="15">R8</text>
<text transform="translate(207.93,214.5) scale(1,1.12)" fill="#1C1C88" text-anchor="start" font-size="15">510</text>
<line x1="219.5" y1="135.5" x2="219.5" y2="152.5" stroke="#000080" stroke-width="1" stroke-linecap="square"/>
<line x1="219.5" y1="152.5" x2="219.5" y2="185.5" stroke="#000000" stroke-width="1" stroke-linecap="square"/>
<line x1="219.5" y1="236.5" x2="219.5" y2="270.5" stroke="#000000" stroke-width="1" stroke-linecap="square"/>
<rect x="215.5" y="185.5" width="9" height="51" stroke="#0000FF" fill="none" stroke-width="1"/>
<text transform="translate(224.77,197.4) scale(1,1.12)" fill="#1C1C88" text-anchor="start" font-size="15">R4</text>
<text transform="translate(224.77,214.5) scale(1,1.12)" fill="#1C1C88" text-anchor="start" font-size="15">510</text>
<g transform="translate(97.93,269.8) rotate(-90) scale(1,1.12)"><text fill="#8A1818" text-anchor="start" font-size="15">A</text></g>
<g transform="translate(114.77,269.8) rotate(-90) scale(1,1.12)"><text fill="#8A1818" text-anchor="start" font-size="15">F</text></g>
<g transform="translate(131.6,269.8) rotate(-90) scale(1,1.12)"><text fill="#8A1818" text-anchor="start" font-size="15">B</text></g>
<g transform="translate(148.43,269.8) rotate(-90) scale(1,1.12)"><text fill="#8A1818" text-anchor="start" font-size="15">E</text></g>
<g transform="translate(165.27,269.8) rotate(-90) scale(1,1.12)"><text fill="#8A1818" text-anchor="start" font-size="15">D</text></g>
<g transform="translate(182.1,269.8) rotate(-90) scale(1,1.12)"><text fill="#8A1818" text-anchor="start" font-size="15">dp</text></g>
<g transform="translate(198.93,269.8) rotate(-90) scale(1,1.12)"><text fill="#8A1818" text-anchor="start" font-size="15">C</text></g>
<g transform="translate(215.77,269.8) rotate(-90) scale(1,1.12)"><text fill="#8A1818" text-anchor="start" font-size="15">G</text></g>
<line x1="285.5" y1="135.5" x2="285.5" y2="152.5" stroke="#000080" stroke-width="1" stroke-linecap="square"/>
<line x1="285.5" y1="152.5" x2="285.5" y2="185.5" stroke="#000000" stroke-width="1" stroke-linecap="square"/>
<line x1="285.5" y1="236.5" x2="285.5" y2="270.5" stroke="#000000" stroke-width="1" stroke-linecap="square"/>
<rect x="281.5" y="185.5" width="9" height="51" stroke="#0000FF" fill="none" stroke-width="1"/>
<text transform="translate(292.1,197.4) scale(1,1.12)" fill="#1C1C88" text-anchor="start" font-size="15">R9</text>
<text transform="translate(292.1,214.5) scale(1,1.12)" fill="#1C1C88" text-anchor="start" font-size="15">2.2K</text>
<line x1="319.5" y1="118.5" x2="319.5" y2="152.5" stroke="#000080" stroke-width="1" stroke-linecap="square"/>
<line x1="319.5" y1="152.5" x2="319.5" y2="185.5" stroke="#000000" stroke-width="1" stroke-linecap="square"/>
<line x1="319.5" y1="236.5" x2="319.5" y2="270.5" stroke="#000000" stroke-width="1" stroke-linecap="square"/>
<rect x="315.5" y="185.5" width="9" height="51" stroke="#0000FF" fill="none" stroke-width="1"/>
<text transform="translate(325.77,197.4) scale(1,1.12)" fill="#1C1C88" text-anchor="start" font-size="15">R10</text>
<text transform="translate(325.77,214.5) scale(1,1.12)" fill="#1C1C88" text-anchor="start" font-size="15">2.2K</text>
<line x1="353.5" y1="102.5" x2="353.5" y2="152.5" stroke="#000080" stroke-width="1" stroke-linecap="square"/>
<line x1="353.5" y1="152.5" x2="353.5" y2="185.5" stroke="#000000" stroke-width="1" stroke-linecap="square"/>
<line x1="353.5" y1="236.5" x2="353.5" y2="270.5" stroke="#000000" stroke-width="1" stroke-linecap="square"/>
<rect x="349.5" y="185.5" width="9" height="51" stroke="#0000FF" fill="none" stroke-width="1"/>
<text transform="translate(359.43,197.4) scale(1,1.12)" fill="#1C1C88" text-anchor="start" font-size="15">R11</text>
<text transform="translate(359.43,214.5) scale(1,1.12)" fill="#1C1C88" text-anchor="start" font-size="15">2.2K</text>
<line x1="387.5" y1="85.5" x2="387.5" y2="152.5" stroke="#000080" stroke-width="1" stroke-linecap="square"/>
<line x1="387.5" y1="152.5" x2="387.5" y2="185.5" stroke="#000000" stroke-width="1" stroke-linecap="square"/>
<line x1="387.5" y1="236.5" x2="387.5" y2="270.5" stroke="#000000" stroke-width="1" stroke-linecap="square"/>
<rect x="383.5" y="185.5" width="9" height="51" stroke="#0000FF" fill="none" stroke-width="1"/>
<text transform="translate(393.1,197.4) scale(1,1.12)" fill="#1C1C88" text-anchor="start" font-size="15">R12</text>
<text transform="translate(393.1,214.5) scale(1,1.12)" fill="#1C1C88" text-anchor="start" font-size="15">2.2K</text>
<polyline points="285.5,135.5 673.5,135.5 673.5,489.5 707.5,489.5" stroke="#000080" stroke-width="1" fill="none" stroke-linecap="square"/>
<polyline points="319.5,118.5 690.5,118.5 690.5,405.5 808.5,405.5 808.5,489.5 841.5,489.5" stroke="#000080" stroke-width="1" fill="none" stroke-linecap="square"/>
<polyline points="353.5,102.5 707.5,102.5 707.5,388.5 942.5,388.5 942.5,489.5 976.5,489.5" stroke="#000080" stroke-width="1" fill="none" stroke-linecap="square"/>
<polyline points="387.5,85.5 723.5,85.5 723.5,371.5 1077.5,371.5 1077.5,489.5 1111.5,489.5" stroke="#000080" stroke-width="1" fill="none" stroke-linecap="square"/>
<line x1="757.5" y1="338.5" x2="757.5" y2="438.5" stroke="#000080" stroke-width="1" stroke-linecap="square"/>
<g transform="translate(753.83,354.6) rotate(-90) scale(1,1.12)"><text fill="#8A1818" text-anchor="start" font-size="15">S1</text></g>
<line x1="757.5" y1="438.5" x2="757.5" y2="472.5" stroke="#000000" stroke-width="1" stroke-linecap="square"/>
<line x1="757.5" y1="506.5" x2="757.5" y2="539.5" stroke="#000000" stroke-width="1" stroke-linecap="square"/>
<line x1="707.5" y1="489.5" x2="740.5" y2="489.5" stroke="#000000" stroke-width="1" stroke-linecap="square"/>
<line x1="740.5" y1="471.5" x2="740.5" y2="505.5" stroke="#0000FF" stroke-width="1" stroke-linecap="square"/>
<line x1="741" y1="488.6" x2="757.83" y2="472.17" stroke="#0000FF" stroke-width="1"/>
<line x1="741.3" y1="489.8" x2="757.83" y2="505.83" stroke="#0000FF" stroke-width="1"/>
<polyline points="741.4,489.9 744.6,497.9 750,494.3 741.4,489.9" stroke="#0000FF" stroke-width="1.2" fill="none"/>
<line x1="757.5" y1="539.5" x2="757.5" y2="556.5" stroke="#000080" stroke-width="1" stroke-linecap="square"/>
<text transform="translate(722.97,485.4) scale(1,1.12)" fill="#262626" text-anchor="middle" font-size="15">b</text>
<g transform="translate(753.53,455.33) rotate(-90) scale(1,1.12)"><text fill="#262626" text-anchor="middle" font-size="15">c</text></g>
<g transform="translate(753.53,522.67) rotate(-90) scale(1,1.12)"><text fill="#262626" text-anchor="middle" font-size="15">e</text></g>
<text transform="translate(757.63,486.4) scale(1,1.12)" fill="#1C1C88" text-anchor="start" font-size="15">Q1</text>
<text transform="translate(757.63,502.8) scale(1,1.12)" fill="#1C1C88" text-anchor="start" font-size="15">9012</text>
<line x1="892.5" y1="338.5" x2="892.5" y2="438.5" stroke="#000080" stroke-width="1" stroke-linecap="square"/>
<g transform="translate(888.5,354.6) rotate(-90) scale(1,1.12)"><text fill="#8A1818" text-anchor="start" font-size="15">S2</text></g>
<line x1="892.5" y1="438.5" x2="892.5" y2="472.5" stroke="#000000" stroke-width="1" stroke-linecap="square"/>
<line x1="892.5" y1="506.5" x2="892.5" y2="539.5" stroke="#000000" stroke-width="1" stroke-linecap="square"/>
<line x1="841.5" y1="489.5" x2="875.5" y2="489.5" stroke="#000000" stroke-width="1" stroke-linecap="square"/>
<line x1="875.5" y1="471.5" x2="875.5" y2="505.5" stroke="#0000FF" stroke-width="1" stroke-linecap="square"/>
<line x1="875.67" y1="488.6" x2="892.5" y2="472.17" stroke="#0000FF" stroke-width="1"/>
<line x1="875.97" y1="489.8" x2="892.5" y2="505.83" stroke="#0000FF" stroke-width="1"/>
<polyline points="876.07,489.9 879.27,497.9 884.67,494.3 876.07,489.9" stroke="#0000FF" stroke-width="1.2" fill="none"/>
<line x1="892.5" y1="539.5" x2="892.5" y2="556.5" stroke="#000080" stroke-width="1" stroke-linecap="square"/>
<text transform="translate(857.63,485.4) scale(1,1.12)" fill="#262626" text-anchor="middle" font-size="15">b</text>
<g transform="translate(888.2,455.33) rotate(-90) scale(1,1.12)"><text fill="#262626" text-anchor="middle" font-size="15">c</text></g>
<g transform="translate(888.2,522.67) rotate(-90) scale(1,1.12)"><text fill="#262626" text-anchor="middle" font-size="15">e</text></g>
<text transform="translate(892.3,486.4) scale(1,1.12)" fill="#1C1C88" text-anchor="start" font-size="15">Q2</text>
<text transform="translate(892.3,502.8) scale(1,1.12)" fill="#1C1C88" text-anchor="start" font-size="15">9012</text>
<line x1="1027.5" y1="338.5" x2="1027.5" y2="438.5" stroke="#000080" stroke-width="1" stroke-linecap="square"/>
<g transform="translate(1023.17,354.6) rotate(-90) scale(1,1.12)"><text fill="#8A1818" text-anchor="start" font-size="15">S3</text></g>
<line x1="1027.5" y1="438.5" x2="1027.5" y2="472.5" stroke="#000000" stroke-width="1" stroke-linecap="square"/>
<line x1="1027.5" y1="506.5" x2="1027.5" y2="539.5" stroke="#000000" stroke-width="1" stroke-linecap="square"/>
<line x1="976.5" y1="489.5" x2="1010.5" y2="489.5" stroke="#000000" stroke-width="1" stroke-linecap="square"/>
<line x1="1010.5" y1="471.5" x2="1010.5" y2="505.5" stroke="#0000FF" stroke-width="1" stroke-linecap="square"/>
<line x1="1010.33" y1="488.6" x2="1027.17" y2="472.17" stroke="#0000FF" stroke-width="1"/>
<line x1="1010.63" y1="489.8" x2="1027.17" y2="505.83" stroke="#0000FF" stroke-width="1"/>
<polyline points="1010.73,489.9 1013.93,497.9 1019.33,494.3 1010.73,489.9" stroke="#0000FF" stroke-width="1.2" fill="none"/>
<line x1="1027.5" y1="539.5" x2="1027.5" y2="556.5" stroke="#000080" stroke-width="1" stroke-linecap="square"/>
<text transform="translate(992.3,485.4) scale(1,1.12)" fill="#262626" text-anchor="middle" font-size="15">b</text>
<g transform="translate(1022.87,455.33) rotate(-90) scale(1,1.12)"><text fill="#262626" text-anchor="middle" font-size="15">c</text></g>
<g transform="translate(1022.87,522.67) rotate(-90) scale(1,1.12)"><text fill="#262626" text-anchor="middle" font-size="15">e</text></g>
<text transform="translate(1026.97,486.4) scale(1,1.12)" fill="#1C1C88" text-anchor="start" font-size="15">Q3</text>
<text transform="translate(1026.97,502.8) scale(1,1.12)" fill="#1C1C88" text-anchor="start" font-size="15">9012</text>
<line x1="1161.5" y1="338.5" x2="1161.5" y2="438.5" stroke="#000080" stroke-width="1" stroke-linecap="square"/>
<g transform="translate(1157.83,354.6) rotate(-90) scale(1,1.12)"><text fill="#8A1818" text-anchor="start" font-size="15">S4</text></g>
<line x1="1161.5" y1="438.5" x2="1161.5" y2="472.5" stroke="#000000" stroke-width="1" stroke-linecap="square"/>
<line x1="1161.5" y1="506.5" x2="1161.5" y2="539.5" stroke="#000000" stroke-width="1" stroke-linecap="square"/>
<line x1="1111.5" y1="489.5" x2="1144.5" y2="489.5" stroke="#000000" stroke-width="1" stroke-linecap="square"/>
<line x1="1144.5" y1="471.5" x2="1144.5" y2="505.5" stroke="#0000FF" stroke-width="1" stroke-linecap="square"/>
<line x1="1145" y1="488.6" x2="1161.83" y2="472.17" stroke="#0000FF" stroke-width="1"/>
<line x1="1145.3" y1="489.8" x2="1161.83" y2="505.83" stroke="#0000FF" stroke-width="1"/>
<polyline points="1145.4,489.9 1148.6,497.9 1154,494.3 1145.4,489.9" stroke="#0000FF" stroke-width="1.2" fill="none"/>
<line x1="1161.5" y1="539.5" x2="1161.5" y2="556.5" stroke="#000080" stroke-width="1" stroke-linecap="square"/>
<text transform="translate(1126.97,485.4) scale(1,1.12)" fill="#262626" text-anchor="middle" font-size="15">b</text>
<g transform="translate(1157.53,455.33) rotate(-90) scale(1,1.12)"><text fill="#262626" text-anchor="middle" font-size="15">c</text></g>
<g transform="translate(1157.53,522.67) rotate(-90) scale(1,1.12)"><text fill="#262626" text-anchor="middle" font-size="15">e</text></g>
<text transform="translate(1161.63,486.4) scale(1,1.12)" fill="#1C1C88" text-anchor="start" font-size="15">Q4</text>
<text transform="translate(1161.63,502.8) scale(1,1.12)" fill="#1C1C88" text-anchor="start" font-size="15">9012</text>
<line x1="757.5" y1="556.5" x2="1161.5" y2="556.5" stroke="#000080" stroke-width="1" stroke-linecap="square"/>
<line x1="1161.5" y1="556.5" x2="1161.5" y2="573.5" stroke="#0000FF" stroke-width="1" stroke-linecap="square"/>
<line x1="1153.5" y1="573.5" x2="1169.5" y2="573.5" stroke="#0000FF" stroke-width="1" stroke-linecap="square"/>
<text transform="translate(1161.33,586.6) scale(1,1.12)" fill="#0000FF" text-anchor="middle" font-size="15">VCC</text>
<rect x="875.5" y="85.5" width="150" height="98.3" stroke="#9B1B1B" fill="#FFFFB0" stroke-width="1"/>
<rect x="892.5" y="119.5" width="17" height="33" stroke="#0000FF" fill="none" stroke-width="1"/>
<line x1="892.5" y1="135.5" x2="909.5" y2="135.5" stroke="#0000FF" stroke-width="1"/>
<rect x="926.5" y="119.5" width="16" height="33" stroke="#0000FF" fill="none" stroke-width="1"/>
<line x1="926.5" y1="135.5" x2="942.5" y2="135.5" stroke="#0000FF" stroke-width="1"/>
<rect x="959.5" y="119.5" width="17" height="33" stroke="#0000FF" fill="none" stroke-width="1"/>
<line x1="959.5" y1="135.5" x2="976.5" y2="135.5" stroke="#0000FF" stroke-width="1"/>
<rect x="993.5" y="119.5" width="17" height="33" stroke="#0000FF" fill="none" stroke-width="1"/>
<line x1="993.5" y1="135.5" x2="1010.5" y2="135.5" stroke="#0000FF" stroke-width="1"/>
<line x1="909.5" y1="34.5" x2="909.5" y2="85.5" stroke="#000000" stroke-width="1" stroke-linecap="square"/>
<line x1="909.5" y1="18.5" x2="909.5" y2="34.5" stroke="#000080" stroke-width="1" stroke-linecap="square"/>
<line x1="909.5" y1="184.5" x2="909.5" y2="236.5" stroke="#000000" stroke-width="1" stroke-linecap="square"/>
<line x1="909.5" y1="236.5" x2="909.5" y2="253.5" stroke="#000080" stroke-width="1" stroke-linecap="square"/>
<g transform="translate(904.93,70.4) rotate(-90) scale(1,1.12)"><text fill="#262626" text-anchor="start" font-size="15">12</text></g>
<g transform="translate(905.13,199) rotate(-90) scale(1,1.12)"><text fill="#262626" text-anchor="end" font-size="15">1</text></g>
<g transform="translate(905.93,34.2) rotate(-90) scale(1,1.12)"><text fill="#8A1818" text-anchor="start" font-size="15">S4</text></g>
<g transform="translate(905.93,252.4) rotate(-90) scale(1,1.12)"><text fill="#8A1818" text-anchor="start" font-size="15">E</text></g>
<g transform="translate(913.93,97.6) rotate(-90) scale(1,1.12)"><text fill="#262626" text-anchor="end" font-size="15">S1</text></g>
<g transform="translate(913.93,173.2) rotate(-90) scale(1,1.12)"><text fill="#262626" text-anchor="start" font-size="15">e</text></g>
<line x1="926.5" y1="34.5" x2="926.5" y2="85.5" stroke="#000000" stroke-width="1" stroke-linecap="square"/>
<line x1="926.5" y1="18.5" x2="926.5" y2="34.5" stroke="#000080" stroke-width="1" stroke-linecap="square"/>
<line x1="926.5" y1="184.5" x2="926.5" y2="236.5" stroke="#000000" stroke-width="1" stroke-linecap="square"/>
<line x1="926.5" y1="236.5" x2="926.5" y2="253.5" stroke="#000080" stroke-width="1" stroke-linecap="square"/>
<g transform="translate(921.77,70.4) rotate(-90) scale(1,1.12)"><text fill="#262626" text-anchor="start" font-size="15">11</text></g>
<g transform="translate(921.97,199) rotate(-90) scale(1,1.12)"><text fill="#262626" text-anchor="end" font-size="15">2</text></g>
<g transform="translate(922.77,34.2) rotate(-90) scale(1,1.12)"><text fill="#8A1818" text-anchor="start" font-size="15">A</text></g>
<g transform="translate(922.77,252.4) rotate(-90) scale(1,1.12)"><text fill="#8A1818" text-anchor="start" font-size="15">D</text></g>
<g transform="translate(930.77,97.6) rotate(-90) scale(1,1.12)"><text fill="#262626" text-anchor="end" font-size="15">a</text></g>
<g transform="translate(930.77,173.2) rotate(-90) scale(1,1.12)"><text fill="#262626" text-anchor="start" font-size="15">d</text></g>
<line x1="942.5" y1="34.5" x2="942.5" y2="85.5" stroke="#000000" stroke-width="1" stroke-linecap="square"/>
<line x1="942.5" y1="18.5" x2="942.5" y2="34.5" stroke="#000080" stroke-width="1" stroke-linecap="square"/>
<line x1="942.5" y1="184.5" x2="942.5" y2="236.5" stroke="#000000" stroke-width="1" stroke-linecap="square"/>
<line x1="942.5" y1="236.5" x2="942.5" y2="253.5" stroke="#000080" stroke-width="1" stroke-linecap="square"/>
<g transform="translate(938.6,70.4) rotate(-90) scale(1,1.12)"><text fill="#262626" text-anchor="start" font-size="15">10</text></g>
<g transform="translate(938.8,199) rotate(-90) scale(1,1.12)"><text fill="#262626" text-anchor="end" font-size="15">3</text></g>
<g transform="translate(939.6,34.2) rotate(-90) scale(1,1.12)"><text fill="#8A1818" text-anchor="start" font-size="15">F</text></g>
<g transform="translate(939.6,252.4) rotate(-90) scale(1,1.12)"><text fill="#8A1818" text-anchor="start" font-size="15">dp</text></g>
<g transform="translate(947.6,97.6) rotate(-90) scale(1,1.12)"><text fill="#262626" text-anchor="end" font-size="15">f</text></g>
<g transform="translate(947.6,173.2) rotate(-90) scale(1,1.12)"><text fill="#262626" text-anchor="start" font-size="15">dp</text></g>
<line x1="959.5" y1="34.5" x2="959.5" y2="85.5" stroke="#000000" stroke-width="1" stroke-linecap="square"/>
<line x1="959.5" y1="18.5" x2="959.5" y2="34.5" stroke="#000080" stroke-width="1" stroke-linecap="square"/>
<line x1="959.5" y1="184.5" x2="959.5" y2="236.5" stroke="#000000" stroke-width="1" stroke-linecap="square"/>
<line x1="959.5" y1="236.5" x2="959.5" y2="253.5" stroke="#000080" stroke-width="1" stroke-linecap="square"/>
<g transform="translate(955.43,70.4) rotate(-90) scale(1,1.12)"><text fill="#262626" text-anchor="start" font-size="15">9</text></g>
<g transform="translate(955.63,199) rotate(-90) scale(1,1.12)"><text fill="#262626" text-anchor="end" font-size="15">4</text></g>
<g transform="translate(956.43,34.2) rotate(-90) scale(1,1.12)"><text fill="#8A1818" text-anchor="start" font-size="15">S3</text></g>
<g transform="translate(956.43,252.4) rotate(-90) scale(1,1.12)"><text fill="#8A1818" text-anchor="start" font-size="15">C</text></g>
<g transform="translate(964.43,97.6) rotate(-90) scale(1,1.12)"><text fill="#262626" text-anchor="end" font-size="15">S2</text></g>
<g transform="translate(964.43,173.2) rotate(-90) scale(1,1.12)"><text fill="#262626" text-anchor="start" font-size="15">c</text></g>
<line x1="976.5" y1="34.5" x2="976.5" y2="85.5" stroke="#000000" stroke-width="1" stroke-linecap="square"/>
<line x1="976.5" y1="18.5" x2="976.5" y2="34.5" stroke="#000080" stroke-width="1" stroke-linecap="square"/>
<line x1="976.5" y1="184.5" x2="976.5" y2="236.5" stroke="#000000" stroke-width="1" stroke-linecap="square"/>
<line x1="976.5" y1="236.5" x2="976.5" y2="253.5" stroke="#000080" stroke-width="1" stroke-linecap="square"/>
<g transform="translate(972.27,70.4) rotate(-90) scale(1,1.12)"><text fill="#262626" text-anchor="start" font-size="15">8</text></g>
<g transform="translate(972.47,199) rotate(-90) scale(1,1.12)"><text fill="#262626" text-anchor="end" font-size="15">5</text></g>
<g transform="translate(973.27,34.2) rotate(-90) scale(1,1.12)"><text fill="#8A1818" text-anchor="start" font-size="15">S2</text></g>
<g transform="translate(973.27,252.4) rotate(-90) scale(1,1.12)"><text fill="#8A1818" text-anchor="start" font-size="15">G</text></g>
<g transform="translate(981.27,97.6) rotate(-90) scale(1,1.12)"><text fill="#262626" text-anchor="end" font-size="15">S3</text></g>
<g transform="translate(981.27,173.2) rotate(-90) scale(1,1.12)"><text fill="#262626" text-anchor="start" font-size="15">g</text></g>
<line x1="993.5" y1="34.5" x2="993.5" y2="85.5" stroke="#000000" stroke-width="1" stroke-linecap="square"/>
<line x1="993.5" y1="18.5" x2="993.5" y2="34.5" stroke="#000080" stroke-width="1" stroke-linecap="square"/>
<line x1="993.5" y1="184.5" x2="993.5" y2="236.5" stroke="#000000" stroke-width="1" stroke-linecap="square"/>
<line x1="993.5" y1="236.5" x2="993.5" y2="253.5" stroke="#000080" stroke-width="1" stroke-linecap="square"/>
<g transform="translate(989.1,70.4) rotate(-90) scale(1,1.12)"><text fill="#262626" text-anchor="start" font-size="15">7</text></g>
<g transform="translate(989.3,199) rotate(-90) scale(1,1.12)"><text fill="#262626" text-anchor="end" font-size="15">6</text></g>
<g transform="translate(990.1,34.2) rotate(-90) scale(1,1.12)"><text fill="#8A1818" text-anchor="start" font-size="15">B</text></g>
<g transform="translate(990.1,252.4) rotate(-90) scale(1,1.12)"><text fill="#8A1818" text-anchor="start" font-size="15">S1</text></g>
<g transform="translate(998.1,97.6) rotate(-90) scale(1,1.12)"><text fill="#262626" text-anchor="end" font-size="15">b</text></g>
<g transform="translate(998.1,173.2) rotate(-90) scale(1,1.12)"><text fill="#262626" text-anchor="start" font-size="15">S4</text></g>
<text transform="translate(1027,97.8) scale(1,1.12)" fill="#1C1C88" text-anchor="start" font-size="15">U3</text>
<text transform="translate(1026.5,114.8) scale(1,1.12)" fill="#1C1C88" text-anchor="start" font-size="15">4-LED</text>
<line x1="118.5" y1="539.5" x2="118.5" y2="573.5" stroke="#000080" stroke-width="1" stroke-linecap="square"/>
<g transform="translate(114.37,572.6) rotate(-90) scale(1,1.12)"><text fill="#8A1818" text-anchor="start" font-size="15">R</text></g>
<line x1="151.5" y1="539.5" x2="151.5" y2="573.5" stroke="#000080" stroke-width="1" stroke-linecap="square"/>
<g transform="translate(148.03,572.6) rotate(-90) scale(1,1.12)"><text fill="#8A1818" text-anchor="start" font-size="15">L</text></g>
<line x1="219.5" y1="539.5" x2="219.5" y2="712.5" stroke="#000080" stroke-width="1" stroke-linecap="square"/>
<line x1="252.5" y1="539.5" x2="252.5" y2="712.5" stroke="#000080" stroke-width="1" stroke-linecap="square"/>
<line x1="269.5" y1="539.5" x2="269.5" y2="712.5" stroke="#000080" stroke-width="1" stroke-linecap="square"/>
<line x1="285.5" y1="539.5" x2="285.5" y2="712.5" stroke="#000080" stroke-width="1" stroke-linecap="square"/>
<polyline points="336.5,539.5 336.5,556.5 303.5,556.5 303.5,712.5" stroke="#000080" stroke-width="1" fill="none" stroke-linecap="square"/>
<polyline points="353.5,539.5 353.5,573.5 319.5,573.5 319.5,708.5 572.5,708.5 572.5,674.5" stroke="#000080" stroke-width="1" fill="none" stroke-linecap="square"/>
<polyline points="370.5,539.5 370.5,590.5 336.5,590.5 336.5,623.5" stroke="#000080" stroke-width="1" fill="none" stroke-linecap="square"/>
<polyline points="387.5,539.5 387.5,590.5 437.5,590.5 437.5,623.5" stroke="#000080" stroke-width="1" fill="none" stroke-linecap="square"/>
<line x1="404.5" y1="539.5" x2="404.5" y2="557.5" stroke="#FF0000" stroke-width="1" stroke-linecap="square"/>
<rect x="386.3" y="556" width="34" height="2" fill="#FF0000"/>
<rect x="391.3" y="561" width="24" height="2" fill="#FF0000"/>
<rect x="396.3" y="566" width="14" height="2" fill="#FF0000"/>
<rect x="401.7" y="571" width="3.2" height="2" fill="#FF0000"/>
<line x1="336.5" y1="623.5" x2="371.5" y2="623.5" stroke="#000000" stroke-width="1" stroke-linecap="square"/>
<line x1="373.5" y1="614.5" x2="373.5" y2="633.5" stroke="#0000FF" stroke-width="1" stroke-linecap="square"/>
<rect x="381" y="609.5" width="13.5" height="29.8" stroke="#0000FF" fill="none" stroke-width="1"/>
<line x1="401.5" y1="614.5" x2="401.5" y2="633.5" stroke="#0000FF" stroke-width="1" stroke-linecap="square"/>
<line x1="401.5" y1="623.5" x2="437.5" y2="623.5" stroke="#000000" stroke-width="1" stroke-linecap="square"/>
<text transform="translate(354,618.6) scale(1,1.12)" fill="#1C1C88" text-anchor="start" font-size="15">Y1</text>
<text transform="translate(404.5,618.6) scale(1,1.12)" fill="#1C1C88" text-anchor="start" font-size="15">12MHz</text>
<line x1="336.5" y1="623.5" x2="336.5" y2="639.5" stroke="#000000" stroke-width="1" stroke-linecap="square"/>
<line x1="336.5" y1="639.5" x2="336.5" y2="645.5" stroke="#0000FF" stroke-width="1" stroke-linecap="square"/>
<line x1="321.5" y1="645.5" x2="351.5" y2="645.5" stroke="#0000FF" stroke-width="1" stroke-linecap="square"/>
<line x1="321.5" y1="653.5" x2="351.5" y2="653.5" stroke="#0000FF" stroke-width="1" stroke-linecap="square"/>
<line x1="336.5" y1="653.5" x2="336.5" y2="658.5" stroke="#0000FF" stroke-width="1" stroke-linecap="square"/>
<line x1="336.5" y1="658.5" x2="336.5" y2="674.5" stroke="#000000" stroke-width="1" stroke-linecap="square"/>
<text transform="translate(353.5,652.6) scale(1,1.12)" fill="#1C1C88" text-anchor="start" font-size="15">C2</text>
<text transform="translate(353.5,669.2) scale(1,1.12)" fill="#1C1C88" text-anchor="start" font-size="15">30</text>
<line x1="437.5" y1="623.5" x2="437.5" y2="639.5" stroke="#000000" stroke-width="1" stroke-linecap="square"/>
<line x1="437.5" y1="639.5" x2="437.5" y2="645.5" stroke="#0000FF" stroke-width="1" stroke-linecap="square"/>
<line x1="422.5" y1="645.5" x2="452.5" y2="645.5" stroke="#0000FF" stroke-width="1" stroke-linecap="square"/>
<line x1="422.5" y1="653.5" x2="452.5" y2="653.5" stroke="#0000FF" stroke-width="1" stroke-linecap="square"/>
<line x1="437.5" y1="653.5" x2="437.5" y2="658.5" stroke="#0000FF" stroke-width="1" stroke-linecap="square"/>
<line x1="437.5" y1="658.5" x2="437.5" y2="674.5" stroke="#000000" stroke-width="1" stroke-linecap="square"/>
<text transform="translate(454,652.6) scale(1,1.12)" fill="#1C1C88" text-anchor="start" font-size="15">C3</text>
<text transform="translate(454,669.2) scale(1,1.12)" fill="#1C1C88" text-anchor="start" font-size="15">30</text>
<line x1="336.5" y1="674.5" x2="437.5" y2="674.5" stroke="#000080" stroke-width="1" stroke-linecap="square"/>
<line x1="387.5" y1="674.5" x2="387.5" y2="692.5" stroke="#FF0000" stroke-width="1" stroke-linecap="square"/>
<rect x="370.1" y="691" width="34" height="2" fill="#FF0000"/>
<rect x="375.1" y="696" width="24" height="2" fill="#FF0000"/>
<rect x="380.1" y="701" width="14" height="2" fill="#FF0000"/>
<rect x="385.5" y="706" width="3.2" height="2" fill="#FF0000"/>
<polyline points="-0.5,674.5 17.5,674.5 17.5,708.5" stroke="#000080" stroke-width="1" fill="none" stroke-linecap="square"/>
<line x1="17.5" y1="708.5" x2="50.5" y2="708.5" stroke="#000000" stroke-width="1" stroke-linecap="square"/>
<line x1="99.5" y1="708.5" x2="134.5" y2="708.5" stroke="#000000" stroke-width="1" stroke-linecap="square"/>
<rect x="50.5" y="692.5" width="49" height="30" stroke="#9B1B1B" fill="#FFFFB0" stroke-width="1"/>
<circle cx="74.8" cy="716.3" r="16.8" fill="#C0C0C0" stroke="#0000FF" stroke-width="1.2"/>
<text transform="translate(50,687.6) scale(1,1.12)" fill="#1C1C88" text-anchor="start" font-size="15">K1</text>
<text transform="translate(32.8,704.6) scale(1,1.12)" fill="#262626" text-anchor="middle" font-size="15">1</text>
<text transform="translate(117.6,704.6) scale(1,1.12)" fill="#262626" text-anchor="middle" font-size="15">2</text>
<text transform="translate(1043.4,653.7) scale(1,1.12)" fill="#0000FF" text-anchor="middle" font-size="15">VCC</text>
<line x1="1035.5" y1="658.5" x2="1051.5" y2="658.5" stroke="#0000FF" stroke-width="1" stroke-linecap="square"/>
<line x1="1043.5" y1="658.5" x2="1043.5" y2="675.5" stroke="#0000FF" stroke-width="1" stroke-linecap="square"/>
<line x1="1043.5" y1="675.5" x2="1043.5" y2="708.5" stroke="#000000" stroke-width="1" stroke-linecap="square"/>
<g transform="translate(1039.6,691.5) rotate(-90) scale(1,1.12)"><text fill="#262626" text-anchor="middle" font-size="15">e</text></g>
<line x1="1043.4" y1="708" x2="1039.4" y2="711" stroke="#0000FF" stroke-width="1"/>
<text transform="translate(906.5,713.5) scale(1,1.12)" fill="#1C1C88" text-anchor="start" font-size="15">R15</text>
<rect x="1199" y="632" width="2" height="27" fill="#FFFFFF"/>
<rect x="1199" y="659" width="2" height="1" fill="#B8B8B8"/>
<polygon points="85.93,132.1 87.9,134.07 87.9,136.93 85.93,138.9 83.07,138.9 81.1,136.93 81.1,134.07 83.07,132.1" fill="#000080"/>
<polygon points="102.93,132.1 104.9,134.07 104.9,136.93 102.93,138.9 100.07,138.9 98.1,136.93 98.1,134.07 100.07,132.1" fill="#000080"/>
<polygon points="119.93,132.1 121.9,134.07 121.9,136.93 119.93,138.9 117.07,138.9 115.1,136.93 115.1,134.07 117.07,132.1" fill="#000080"/>
<polygon points="135.93,132.1 137.9,134.07 137.9,136.93 135.93,138.9 133.07,138.9 131.1,136.93 131.1,134.07 133.07,132.1" fill="#000080"/>
<polygon points="152.93,132.1 154.9,134.07 154.9,136.93 152.93,138.9 150.07,138.9 148.1,136.93 148.1,134.07 150.07,132.1" fill="#000080"/>
<polygon points="169.93,132.1 171.9,134.07 171.9,136.93 169.93,138.9 167.07,138.9 165.1,136.93 165.1,134.07 167.07,132.1" fill="#000080"/>
<polygon points="186.93,132.1 188.9,134.07 188.9,136.93 186.93,138.9 184.07,138.9 182.1,136.93 182.1,134.07 184.07,132.1" fill="#000080"/>
<polygon points="203.93,132.1 205.9,134.07 205.9,136.93 203.93,138.9 201.07,138.9 199.1,136.93 199.1,134.07 201.07,132.1" fill="#000080"/>
<polygon points="220.93,132.1 222.9,134.07 222.9,136.93 220.93,138.9 218.07,138.9 216.1,136.93 216.1,134.07 218.07,132.1" fill="#000080"/>
<polygon points="893.93,553.1 895.9,555.07 895.9,557.93 893.93,559.9 891.07,559.9 889.1,557.93 889.1,555.07 891.07,553.1" fill="#000080"/>
<polygon points="1028.93,553.1 1030.9,555.07 1030.9,557.93 1028.93,559.9 1026.07,559.9 1024.1,557.93 1024.1,555.07 1026.07,553.1" fill="#000080"/>
<polygon points="1162.93,553.1 1164.9,555.07 1164.9,557.93 1162.93,559.9 1160.07,559.9 1158.1,557.93 1158.1,555.07 1160.07,553.1" fill="#000080"/>
<polygon points="337.93,620.1 339.9,622.07 339.9,624.93 337.93,626.9 335.07,626.9 333.1,624.93 333.1,622.07 335.07,620.1" fill="#000080"/>
<polygon points="438.93,620.1 440.9,622.07 440.9,624.93 438.93,626.9 436.07,626.9 434.1,624.93 434.1,622.07 436.07,620.1" fill="#000080"/>
<polygon points="388.93,671.1 390.9,673.07 390.9,675.93 388.93,677.9 386.07,677.9 384.1,675.93 384.1,673.07 386.07,671.1" fill="#000080"/>
<polygon points="1027.7,708.8 1028.4,709.5 1028.4,710.5 1027.7,711.2 1026.7,711.2 1026,710.5 1026,709.5 1026.7,708.8" fill="#0000FF"/>
</svg>
</body></html>
